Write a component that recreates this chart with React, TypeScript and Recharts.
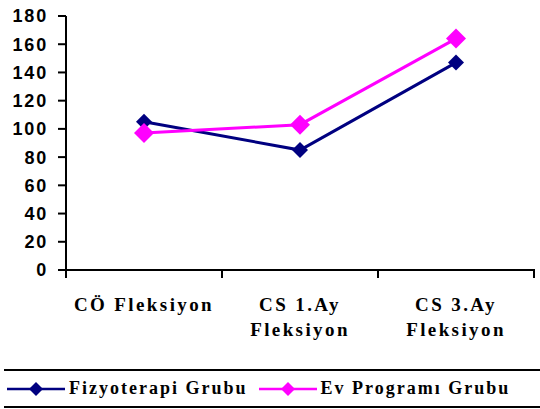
import React from "react";
import { LineChart, Line, XAxis, YAxis, Legend } from "recharts";

const categories = ["CÖ Fleksiyon", "CS 1.Ay\nFleksiyon", "CS 3.Ay\nFleksiyon"];
const categoryPositions = [0.5, 1.5, 2.5];
const xTicks = [0, 0.5, 1, 1.5, 2, 2.5, 3];
const fizyoterapi = [105, 85, 147];
const evProgrami = [97, 103, 164];
const yTicks = [0, 20, 40, 60, 80, 100, 120, 140, 160, 180];
const seriesNames = ["Fizyoterapi Grubu", "Ev Programı Grubu"];
const seriesColors = ["#000080", "#FF00FF"];

const data = categories.map((c, i) => ({
  cat: c,
  pos: categoryPositions[i],
  fiz: fizyoterapi[i],
  ev: evProgrami[i],
}));

const serif = "'Liberation Serif', 'Times New Roman', serif";
const sans = "'Liberation Sans', Arial, sans-serif";

const Diamond = (size: number, color: string) => (props: any) => {
  const { cx, cy, index } = props;
  if (cx == null || cy == null) return <g key={index} />;
  const s = size / 2;
  return (
    <path
      key={index}
      d={`M${cx},${cy - s} L${cx + s},${cy} L${cx},${cy + s} L${cx - s},${cy} Z`}
      fill={color}
      stroke="none"
    />
  );
};

const CatTick = (props: any) => {
  const { x, y, payload } = props;
  const v = Number(payload.value);
  const idx = categoryPositions.indexOf(v);
  const isBoundary = idx < 0;
  const label = idx >= 0 ? categories[idx] : "";
  const lines = label.split("\n");
  return (
    <g>
      {isBoundary && <rect x={x - 1} y={y - 1} width={2} height={9} fill="#000" />}
      <text
        x={x}
        y={y}
        textAnchor="middle"
        fontFamily={serif}
        fontWeight="bold"
        fontSize={19}
        letterSpacing={2.4}
        fill="#000"
      >
        {lines.map((l, i) => (
          <tspan key={i} x={x} dy={i === 0 ? 41 : 25}>
            {l}
          </tspan>
        ))}
      </text>
    </g>
  );
};

const LegendMark = ({ color, size }: { color: string; size: number }) => (
  <svg width={58} height={20} style={{ display: "block" }}>
    <line x1={0} y1={10} x2={58} y2={10} stroke={color} strokeWidth={2.5} />
    <path
      d={`M29,${10 - size / 2} L${29 + size / 2},10 L29,${10 + size / 2} L${29 - size / 2},10 Z`}
      fill={color}
    />
  </svg>
);

const LegendContent = () => (
  <div
    style={{
      borderTop: "2px solid #000",
      borderBottom: "2px solid #000",
      height: 35,
      display: "flex",
      alignItems: "center",
      boxSizing: "content-box",
    }}
  >
    {seriesNames.map((n, i) => (
      <div
        key={n}
        style={{
          display: "flex",
          alignItems: "center",
          marginLeft: i === 0 ? 3 : 11,
        }}
      >
        <LegendMark color={seriesColors[i]} size={14} />
        <span
          style={{
            fontFamily: serif,
            fontWeight: "bold",
            fontSize: 18,
            letterSpacing: 2,
            marginLeft: 4,
            color: "#000",
            whiteSpace: "nowrap",
          }}
        >
          {n}
        </span>
      </div>
    ))}
  </div>
);

export default function App() {
  return (
    <div style={{ position: "absolute", left: 0, top: 0, background: "#fff" }}>
      <LineChart
        width={540}
        height={409}
        data={data}
        margin={{ top: 16, right: 6, left: 0, bottom: 1 }}
      >
        <XAxis
          dataKey="pos"
          type="number"
          domain={[0, 3]}
          allowDataOverflow
          ticks={xTicks}
          interval={0}
          axisLine={{ stroke: "#000", strokeWidth: 2 }}
          tickLine={false}
          tickSize={0}
          tickMargin={0}
          tick={<CatTick />}
          height={99}
        />
        <YAxis
          domain={[0, 180]}
          ticks={yTicks}
          interval={0}
          width={66}
          axisLine={{ stroke: "#000", strokeWidth: 2 }}
          tickLine={{ stroke: "#000", strokeWidth: 2 }}
          tickSize={8}
          tickMargin={10}
          tick={{
            fill: "#000",
            fontFamily: sans,
            fontWeight: "bold",
            fontSize: 18,
            letterSpacing: 1.8,
          }}
        />
        <Legend
          verticalAlign="bottom"
          content={<LegendContent />}
          wrapperStyle={{ left: 4, width: 536, bottom: 1 }}
        />
        <Line
          dataKey="fiz"
          name={seriesNames[0]}
          stroke={seriesColors[0]}
          strokeWidth={3}
          dot={Diamond(16, seriesColors[0])}
          activeDot={false}
          isAnimationActive={false}
        />
        <Line
          dataKey="ev"
          name={seriesNames[1]}
          stroke={seriesColors[1]}
          strokeWidth={3}
          dot={Diamond(20, seriesColors[1])}
          activeDot={false}
          isAnimationActive={false}
        />
      </LineChart>
    </div>
  );
}
